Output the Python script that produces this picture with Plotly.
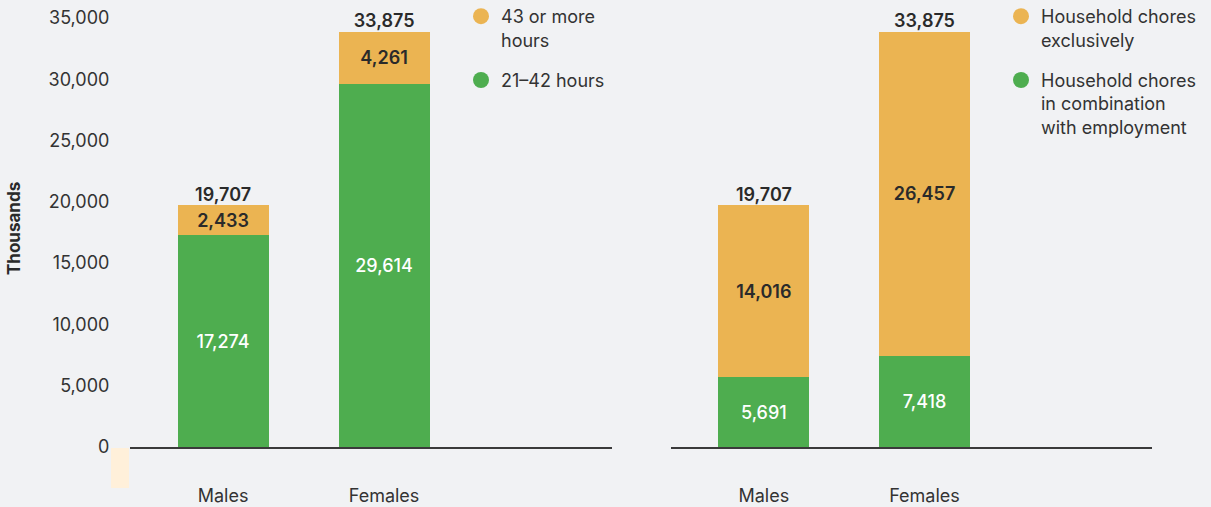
import plotly.graph_objects as go

categories = ["Males", "Females"]

# Left chart: hours spent on household chores
hours_21_42 = [17274, 29614]
hours_43_plus = [2433, 4261]

# Right chart: type of household chores
chores_with_employment = [5691, 7418]
chores_exclusively = [14016, 26457]

y_ticks = [0, 5000, 10000, 15000, 20000, 25000, 30000, 35000]

GREEN = "#4EAD4F"
ORANGE = "#EBB452"
BG = "#F1F2F4"
DARK = "#2A2A2A"
FONT = "Inter"

W, H = 1211, 507


def fmt(v):
    return f"{v:,}"


fig = go.Figure()


def add_stack(green, orange, xa, ya, leg, green_name, orange_name):
    fig.add_trace(go.Bar(
        x=categories, y=green, xaxis=xa, yaxis=ya,
        marker=dict(color=GREEN, line=dict(width=0)),
        width=0.565, text=[fmt(v) for v in green], textposition="inside",
        insidetextanchor="middle", textangle=0, constraintext="none",
        textfont=dict(color="white", size=18, family=FONT, weight=500),
        showlegend=False, hoverinfo="skip",
    ))
    fig.add_trace(go.Bar(
        x=categories, y=orange, xaxis=xa, yaxis=ya,
        marker=dict(color=ORANGE, line=dict(width=0)),
        width=0.565, text=[fmt(v) for v in orange], textposition="inside",
        insidetextanchor="middle", textangle=0, constraintext="none",
        textfont=dict(color=DARK, size=18, family=FONT, weight=600),
        showlegend=False, hoverinfo="skip",
    ))
    totals = [g + o for g, o in zip(green, orange)]
    fig.add_trace(go.Scatter(
        x=categories, y=totals, xaxis=xa, yaxis=ya, mode="text",
        text=[fmt(v) for v in totals], textposition="top center",
        textfont=dict(color=DARK, size=18, family=FONT, weight=600),
        showlegend=False, hoverinfo="skip", cliponaxis=False,
    ))
    # legend entries (orange first, then green)
    fig.add_trace(go.Scatter(
        x=[None], y=[None], xaxis=xa, yaxis=ya, mode="markers",
        marker=dict(color=ORANGE, size=18, symbol="circle"),
        name=orange_name, legend=leg, legendgroup=leg + "o",
    ))
    fig.add_trace(go.Scatter(
        x=[None], y=[None], xaxis=xa, yaxis=ya, mode="markers",
        marker=dict(color=GREEN, size=18, symbol="circle"),
        name=green_name, legend=leg, legendgroup=leg + "g",
    ))


add_stack(hours_21_42, hours_43_plus, "x", "y", "legend",
          "21–42 hours", "43 or more<br>hours")
add_stack(chores_with_employment, chores_exclusively, "x2", "y2", "legend2",
          "Household chores<br>in combination<br>with employment",
          "Household chores<br>exclusively")

ydom = [(H - 447) / H, (H - 18) / H]
xrange_ = [-0.578, 2.416]

axis_x = dict(
    type="category", range=xrange_, showgrid=False, zeroline=False,
    showline=True, linecolor="#3A3A3A", linewidth=1.5,
    ticks="outside", ticklen=32, tickcolor="rgba(0,0,0,0)",
    tickfont=dict(size=18, color="#333333", family=FONT),
    fixedrange=True, automargin=False,
)
axis_y = dict(
    range=[0, 35000], tickvals=y_ticks, tickformat=",d", showgrid=False,
    zeroline=False, showline=False, domain=ydom, automargin=False,
    fixedrange=True,
    tickfont=dict(size=18, color="#333333", family=FONT),
)

legend_common = dict(
    font=dict(size=18, color="#333333", family=FONT),
    bgcolor="rgba(0,0,0,0)", valign="top", tracegroupgap=14,
    xanchor="left", yanchor="top", itemsizing="trace",
    traceorder="grouped",
)

fig.update_layout(
    width=W, height=H,
    margin=dict(l=0, r=0, t=0, b=0, autoexpand=False),
    paper_bgcolor=BG, plot_bgcolor=BG,
    barmode="stack",
    font=dict(family=FONT, color="#333333"),
    xaxis=dict(axis_x, domain=[130 / W, 612 / W], anchor="y"),
    xaxis2=dict(axis_x, domain=[671 / W, 1152 / W], anchor="y2"),
    yaxis=dict(axis_y, anchor="x", ticks="outside", ticklen=16,
               tickcolor="rgba(0,0,0,0)"),
    yaxis2=dict(axis_y, anchor="x2", showticklabels=False, matches="y"),
    legend=dict(legend_common, x=461 / W, y=1 + 2 / H),
    legend2=dict(legend_common, x=1001 / W, y=1 + 2 / H),
    showlegend=True,
    annotations=[dict(
        text="<b>Thousands</b>", textangle=-90, xref="paper", yref="paper",
        x=14 / W, y=(H - 229) / H, xanchor="center", yanchor="middle",
        showarrow=False,
        font=dict(size=17, color=DARK, family=FONT),
    )],
    shapes=[dict(
        type="rect", xref="paper", yref="paper",
        x0=111 / W, x1=129 / W, y0=(H - 488) / H, y1=(H - 448) / H,
        fillcolor="#FFF0DA", line=dict(width=0), layer="below",
    )],
)

fig.write_html(
    "out.html",
    config={"displayModeBar": False},
    post_script=(
        "document.body.style.margin='0';"
        "document.body.style.background='" + BG + "';"
        "document.documentElement.style.overflow='hidden';"
    ),
)
